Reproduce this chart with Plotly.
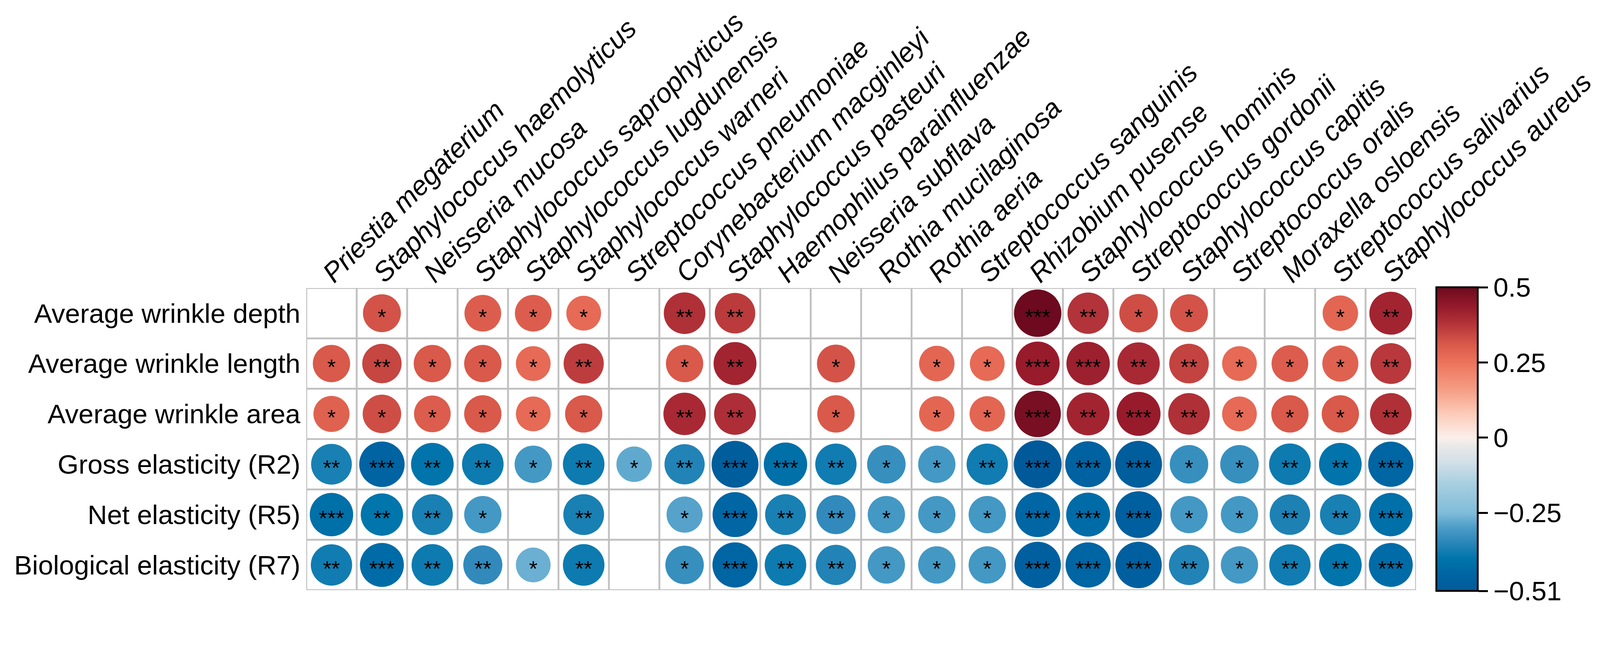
import math
import plotly.graph_objects as go

species = [
    "Priestia megaterium", "Staphylococcus haemolyticus", "Neisseria mucosa",
    "Staphylococcus saprophyticus", "Staphylococcus lugdunensis", "Staphylococcus warneri",
    "Streptococcus pneumoniae", "Corynebacterium macginleyi", "Staphylococcus pasteuri",
    "Haemophilus parainfluenzae", "Neisseria subflava", "Rothia mucilaginosa",
    "Rothia aeria", "Streptococcus sanguinis", "Rhizobium pusense",
    "Staphylococcus hominis", "Streptococcus gordonii", "Staphylococcus capitis",
    "Streptococcus oralis", "Moraxella osloensis", "Streptococcus salivarius",
    "Staphylococcus aureus",
]

traits = [
    "Average wrinkle depth", "Average wrinkle length", "Average wrinkle area",
    "Gross elasticity (R2)", "Net elasticity (R5)", "Biological elasticity (R7)",
]

depth = [None, 0.32, None, 0.30, 0.30, 0.27, None, 0.385, 0.365, None, None, None, None, None,
         0.50, 0.38, 0.33, 0.32, None, None, 0.28, 0.41]
length = [0.31, 0.345, 0.31, 0.31, 0.27, 0.36, None, 0.31, 0.41, None, 0.32, None, 0.28, 0.27,
          0.43, 0.42, 0.40, 0.35, 0.27, 0.30, 0.29, 0.37]
area = [0.29, 0.33, 0.30, 0.31, 0.27, 0.31, None, 0.40, 0.39, None, 0.31, None, 0.28, 0.28,
        0.48, 0.41, 0.43, 0.385, 0.27, 0.31, 0.31, 0.385]
r2 = [-0.37, -0.46, -0.405, -0.385, -0.31, -0.385, -0.28, -0.36, -0.49, -0.42, -0.38, -0.33,
      -0.31, -0.38, -0.51, -0.47, -0.49, -0.33, -0.33, -0.385, -0.405, -0.455]
r5 = [-0.42, -0.40, -0.37, -0.31, None, -0.37, None, -0.29, -0.45, -0.37, -0.34, -0.31,
      -0.31, -0.31, -0.45, -0.43, -0.485, -0.31, -0.31, -0.365, -0.37, -0.42]
r7 = [-0.38, -0.43, -0.385, -0.34, -0.27, -0.385, None, -0.33, -0.455, -0.385, -0.36, -0.31,
      -0.31, -0.31, -0.48, -0.455, -0.48, -0.36, -0.31, -0.38, -0.405, -0.43]

depth_sig = ["", "*", "", "*", "*", "*", "", "**", "**", "", "", "", "", "",
             "***", "**", "*", "*", "", "", "*", "**"]
length_sig = ["*", "**", "*", "*", "*", "**", "", "*", "**", "", "*", "", "*", "*",
              "***", "***", "**", "**", "*", "*", "*", "**"]
area_sig = ["*", "*", "*", "*", "*", "*", "", "**", "**", "", "*", "", "*", "*",
            "***", "**", "***", "**", "*", "*", "*", "**"]
r2_sig = ["**", "***", "**", "**", "*", "**", "*", "**", "***", "***", "**", "*", "*", "**",
          "***", "***", "***", "*", "*", "**", "**", "***"]
r5_sig = ["***", "**", "**", "*", "", "**", "", "*", "***", "**", "**", "*", "*", "*",
          "***", "***", "***", "*", "*", "**", "**", "***"]
r7_sig = ["**", "***", "**", "**", "*", "**", "", "*", "***", "**", "**", "*", "*", "*",
          "***", "***", "***", "**", "*", "**", "**", "***"]

cbar_ticks = [-0.51, -0.25, 0, 0.25, 0.5]
cbar_text = ["\u22120.51", "\u22120.25", "0", "0.25", "0.5"]

rows = [depth, length, area, r2, r5, r7]
sigs = [depth_sig, length_sig, area_sig, r2_sig, r5_sig, r7_sig]

CMIN, CMAX = -0.51, 0.5
stops = [(-0.51, "#005a9a"), (-0.45, "#0066a4"), (-0.40, "#0076ac"), (-0.35, "#2a86b8"),
         (-0.30, "#4b9cc7"), (-0.25, "#80bcd9"), (-0.15, "#a9d0e1"), (-0.08, "#d4e0e8"),
         (-0.03, "#e8e8e8"), (0.0, "#fbefea"), (0.08, "#fccbb8"), (0.15, "#f6a28a"),
         (0.25, "#ec735b"), (0.31, "#d9594a"), (0.375, "#b5353a"), (0.43, "#981b2c"),
         (0.5, "#6d0a1f")]
colorscale = [[(v - CMIN) / (CMAX - CMIN), c] for v, c in stops]

FONT = "Liberation Sans, Arial, Helvetica, sans-serif"

# screenshot pixels per CSS pixel, and page body margin
S = 4390 / 4096
BODY = 8


def px(p):
    return p / S


def pos(p):
    return p / S - BODY


W = 4096 - 2 * BODY
H = round(1676 / S) - 2 * BODY

gl, gr, gt, gb = pos(840), pos(3885), pos(790), pos(1618)
plot_w, plot_h = gr - gl, gb - gt

DMAX = px(130)

xs, ys, vals, sizes = [], [], [], []
sx, sy, st = [], [], []
for i, (row, sig) in enumerate(zip(rows, sigs)):
    for j, v in enumerate(row):
        if v is None:
            continue
        xs.append(j + 1)
        ys.append(i + 1)
        vals.append(v)
        sizes.append(DMAX * math.sqrt(abs(v) / 0.5))
        if sig[j]:
            sx.append(j + 1)
            sy.append(i + 1 + 0.11)
            st.append(sig[j])

fig = go.Figure()

fig.add_trace(go.Scatter(
    x=xs, y=ys, mode="markers",
    marker=dict(
        size=sizes, color=vals, colorscale=colorscale, cmin=CMIN, cmax=CMAX,
        line=dict(width=0), opacity=1,
        colorbar=dict(
            x=(pos(3941) - gl) / plot_w, xanchor="left", xpad=0,
            y=(gb - pos(788)) / plot_h, yanchor="top", ypad=0,
            lenmode="pixels", len=px(833), thickness=px(114),
            outlinewidth=px(5), outlinecolor="black",
            tickvals=cbar_ticks, ticktext=cbar_text,
            ticks="outside", ticklen=px(26), tickwidth=px(5), tickcolor="black",
            tickfont=dict(family=FONT, size=px(74), color="black"),
        ),
        showscale=True,
    ),
    hoverinfo="skip", showlegend=False,
))

fig.add_trace(go.Scatter(
    x=sx, y=sy, mode="text", text=st, textposition="middle center",
    textfont=dict(family=FONT, size=px(60), color="black"),
    hoverinfo="skip", showlegend=False,
))

LW = px(5)
shapes = []
for k in range(len(species) + 1):
    shapes.append(dict(type="line", xref="x", yref="y", x0=k + 0.5, x1=k + 0.5,
                       y0=0.5, y1=len(traits) + 0.5, line=dict(color="#c0c0c0", width=LW),
                       layer="below"))
for k in range(len(traits) + 1):
    shapes.append(dict(type="line", xref="x", yref="y", x0=0.5, x1=len(species) + 0.5,
                       y0=k + 0.5, y1=k + 0.5, line=dict(color="#c0c0c0", width=LW),
                       layer="below"))

fig.update_layout(
    width=W, height=H,
    margin=dict(l=gl, r=W - gr, t=gt, b=H - gb, autoexpand=False),
    paper_bgcolor="white", plot_bgcolor="white",
    shapes=shapes,
    xaxis=dict(
        range=[0.5, len(species) + 0.5], side="top",
        tickvals=list(range(1, len(species) + 1)), ticktext=species,
        tickangle=-45, ticks="", showgrid=False, zeroline=False, showline=False,
        tickfont=dict(family=FONT, size=px(75), color="black", style="italic"),
        ticklabelstandoff=-15, ticklabelshift=-18, ticklabeloverflow="allow",
        automargin=False,
    ),
    yaxis=dict(
        range=[len(traits) + 0.5, 0.5],
        tickvals=list(range(1, len(traits) + 1)), ticktext=traits,
        ticks="", showgrid=False, zeroline=False, showline=False,
        tickfont=dict(family=FONT, size=px(74), color="black"),
        ticklabelstandoff=14, automargin=False,
    ),
)

fig.write_html("out.html")
